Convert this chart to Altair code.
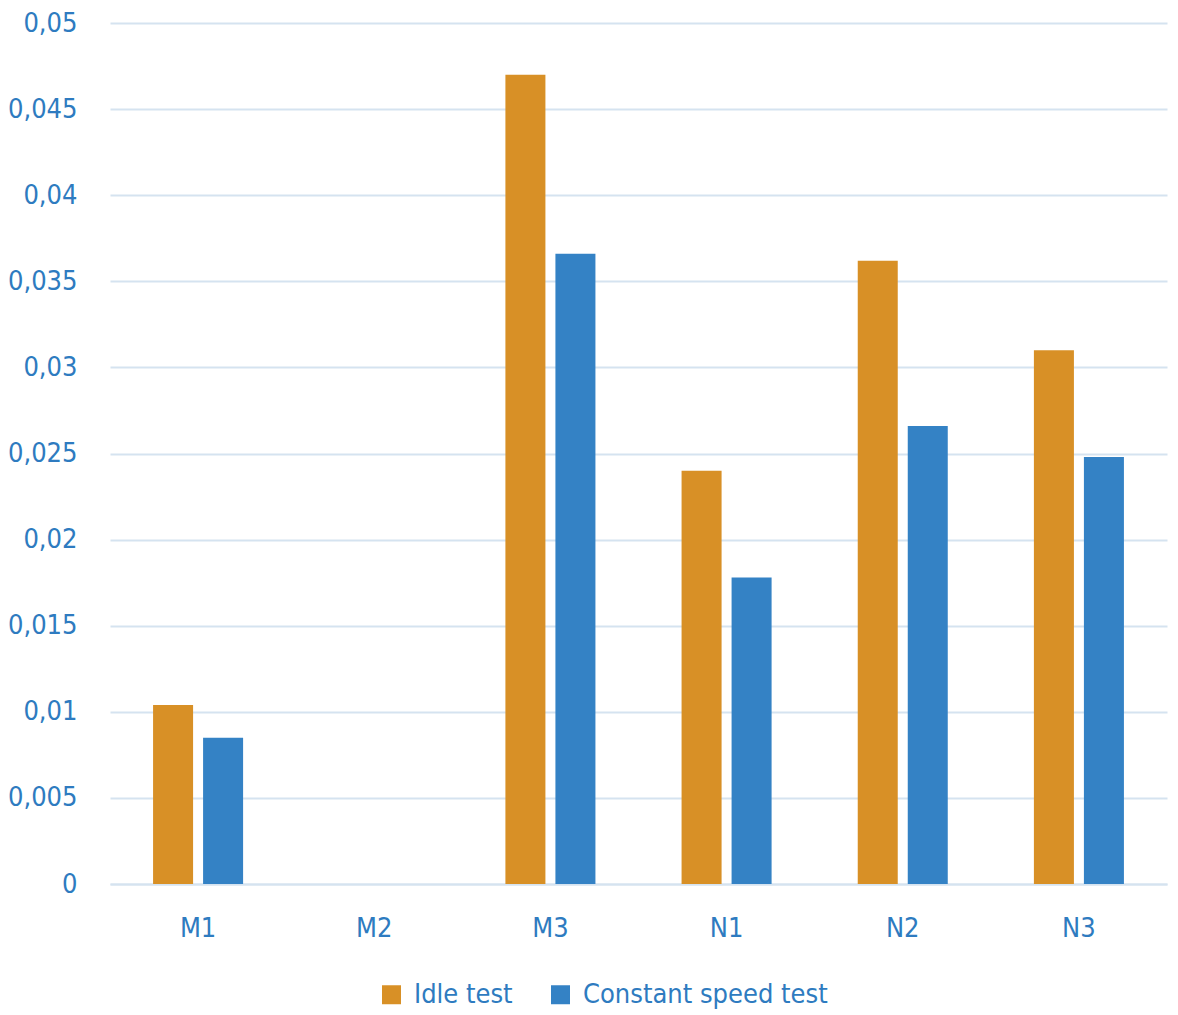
import altair as alt
import pandas as pd

categories = ["M1", "M2", "M3", "N1", "N2", "N3"]
idle_test = [0.0104, 0.0, 0.0470, 0.0240, 0.0362, 0.0310]
constant_speed_test = [0.0085, 0.0, 0.0366, 0.0178, 0.0266, 0.0248]
series_names = ["Idle test", "Constant speed test"]
series_colors = ["#D89026", "#3482C5"]

rows = []
for c, a, b in zip(categories, idle_test, constant_speed_test):
    rows.append({"cat": c, "series": series_names[0], "value": a})
    rows.append({"cat": c, "series": series_names[1], "value": b})
df = pd.DataFrame(rows)

FONT = "DejaVu Sans Condensed, sans-serif"
TXT = "#2E7BC0"
GRID = "#D5E3F0"
FS = 27

chart = alt.Chart(df).mark_bar().encode(
    x=alt.X("cat:N", sort=categories,
            scale=alt.Scale(paddingInner=0.489, paddingOuter=0.2445),
            axis=alt.Axis(title=None, labelAngle=0, domain=True, domainColor=GRID,
                          domainWidth=2, ticks=False, labelPadding=31,
                          labelFontSize=FS, labelFont=FONT, labelColor=TXT, grid=False)),
    xOffset=alt.XOffset("series:N", sort=series_names,
                        scale=alt.Scale(paddingInner=0.2, paddingOuter=0)),
    y=alt.Y("value:Q", scale=alt.Scale(domain=[0, 0.05], nice=False),
            axis=alt.Axis(title=None, values=[i * 0.005 for i in range(11)],
                          labelExpr="replace(format(datum.value, '~g'), '.', ',')",
                          domain=False, ticks=False, labelPadding=33,
                          labelFontSize=FS, labelFont=FONT, labelColor=TXT,
                          gridColor=GRID, gridWidth=2)),
    color=alt.Color("series:N", sort=series_names,
                    scale=alt.Scale(domain=series_names, range=series_colors),
                    legend=alt.Legend(title=None, orient="none", legendX=268, legendY=958,
                                      direction="horizontal", symbolType="square",
                                      symbolSize=361, symbolStrokeWidth=0,
                                      labelFontSize=FS, labelFont=FONT, labelColor=TXT,
                                      labelLimit=0, labelOffset=9, columnPadding=34)),
).properties(
    width=1057, height=861,
    autosize=alt.AutoSizeParams(type="none"),
    padding={"left": 102, "top": 15, "right": 3, "bottom": 131},
).configure_view(stroke=None)

chart.save("out.html", embed_options={"renderer": "svg", "actions": False})
